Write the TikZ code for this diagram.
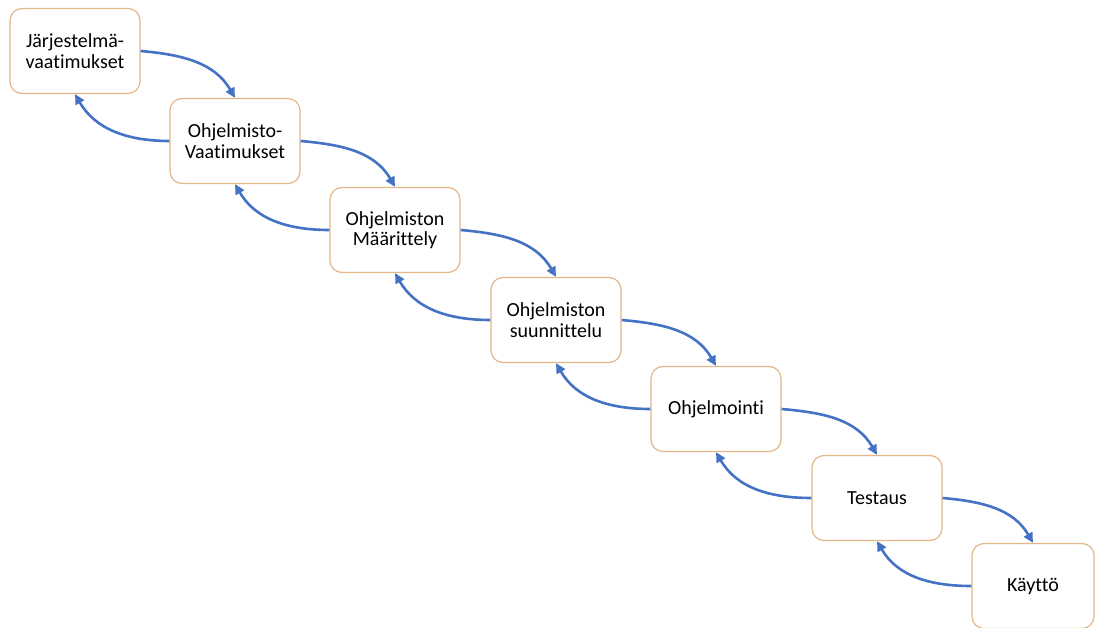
\documentclass[tikz,border=0pt]{standalone}
\usepackage{fontspec}
\setmainfont{Carlito}[Ligatures=NoCommon]
\usetikzlibrary{arrows.meta}

\definecolor{boxline}{RGB}{226,182,136}
\definecolor{arrowblue}{RGB}{68,114,196}

\tikzset{
  phase/.style={draw=boxline, line width=1.2pt, rounded corners=12pt, fill=white,
    minimum width=130pt, minimum height=85pt, align=center,
    font=\fontsize{20}{20.5}\selectfont},
  fwd/.style={arrowblue, line width=2.6pt, -{Triangle[length=10pt,width=9.5pt]}},
  back/.style={fwd},
}

\begin{document}
\begin{tikzpicture}[x=1pt,y=1pt]
  \useasboundingbox (0,0) rectangle (1096,-628);

  % vaiheet
  \node[phase] (jv) at (75,-51)  {Järjestelmä-\\vaatimukset};
  \node[phase] (ov) at (235,-141) {Ohjelmisto-\\Vaatimukset};
  \node[phase] (om) at (395,-230) {Ohjelmiston\\Määrittely};
  \node[phase] (os) at (556,-320) {Ohjelmiston\\suunnittelu};
  \node[phase] (oh) at (716,-409) {Ohjelmointi};
  \node[phase] (te) at (877,-498) {Testaus};
  \node[phase, minimum width=122pt] (ka) at (1033,-586) {Käyttö};

  % eteenpäin
  \foreach \a/\b in {jv/ov, ov/om, om/os, os/oh, oh/te, te/ka}
    \draw[fwd] (\a.east) to[out=-5,in=120] (\b.north);

  % takaisin
  \foreach \a/\b in {ov/jv, om/ov, os/om, oh/os, te/oh, ka/te}
    \draw[back] (\a.west) to[out=180,in=-60] (\b.south);
\end{tikzpicture}
\end{document}
